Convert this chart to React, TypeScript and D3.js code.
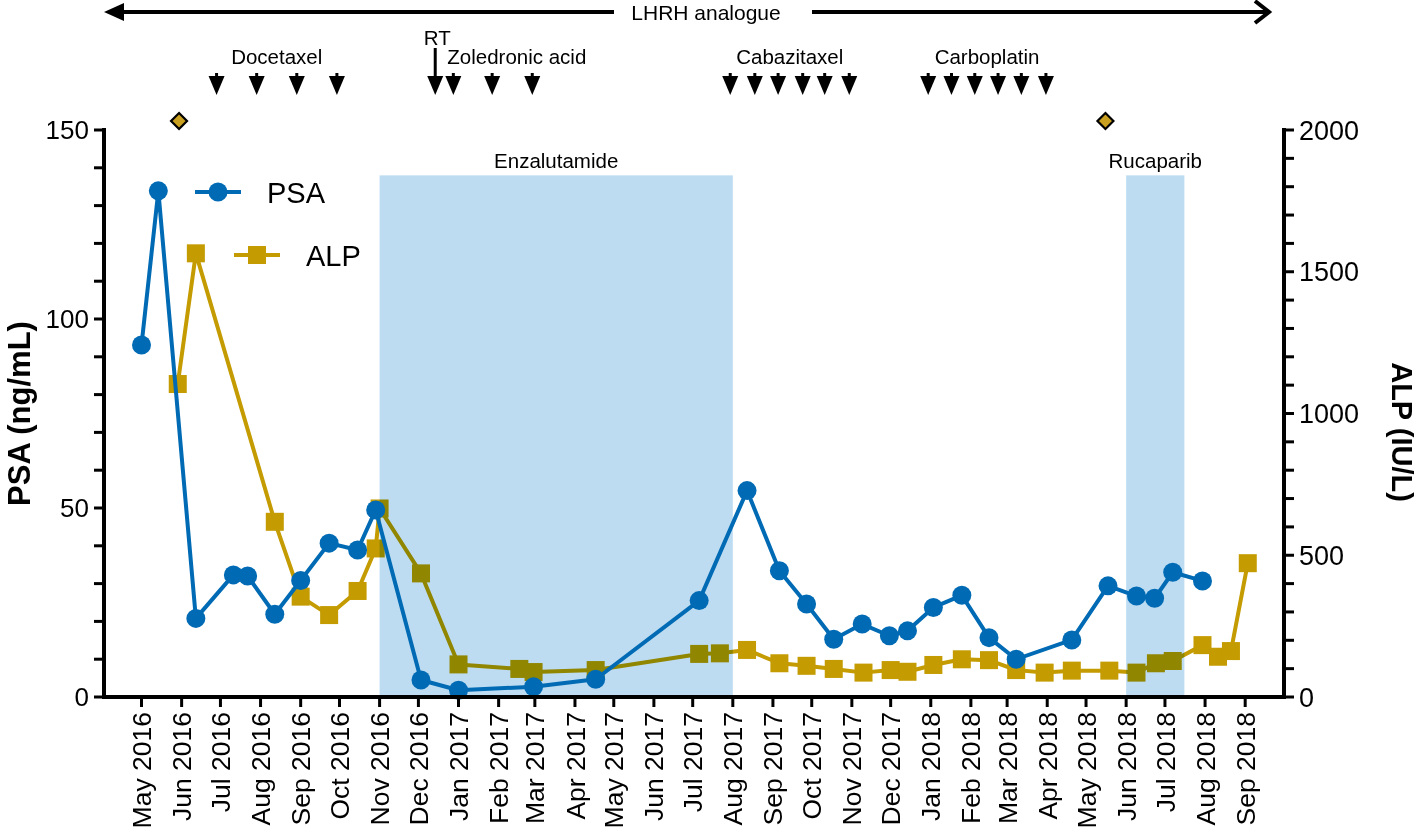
import React from "react";
import * as d3 from "d3";

const parse = d3.timeParse("%Y-%m-%d");

const psaDates = ["2016-05-01","2016-05-14","2016-06-12","2016-07-11","2016-07-22","2016-08-12","2016-09-01","2016-09-23","2016-10-15","2016-10-29","2016-12-03","2017-01-01","2017-02-28","2017-04-17","2017-07-06","2017-08-12","2017-09-06","2017-09-27","2017-10-18","2017-11-09","2017-11-30","2017-12-14","2018-01-03","2018-01-25","2018-02-15","2018-03-08","2018-04-20","2018-05-18","2018-06-09","2018-06-23","2018-07-07","2018-07-30"];
const psaValues = [93.1,133.9,20.8,32.3,32.0,21.9,30.8,40.7,38.9,49.5,4.5,1.8,2.7,4.7,25.5,54.6,33.4,24.6,15.3,19.3,16.2,17.5,23.7,26.9,15.7,10.0,15.1,29.4,26.7,26.1,33.0,30.7];

const alpDates = ["2016-05-29","2016-06-12","2016-08-12","2016-09-01","2016-09-23","2016-10-15","2016-10-29","2016-11-01","2016-12-03","2017-01-01","2017-02-17","2017-02-28","2017-04-17","2017-07-06","2017-07-22","2017-08-12","2017-09-06","2017-09-27","2017-10-18","2017-11-10","2017-12-01","2017-12-14","2018-01-03","2018-01-25","2018-02-15","2018-03-08","2018-03-30","2018-04-20","2018-05-19","2018-06-09","2018-06-24","2018-07-07","2018-07-30","2018-08-11","2018-08-21","2018-09-03"];
const alpValues = [1104,1565,618,354,289,374,524,665,436,115,99,88,95,152,154,166,119,110,99,86,95,89,113,133,130,95,86,93,93,86,119,127,183,142,162,472];

const psaTicks = [0, 50, 100, 150];
const alpTicks = [0, 500, 1000, 1500, 2000];

const docetaxelDates = ["2016-06-28","2016-07-29","2016-08-29","2016-09-29"];
const rtDates = ["2016-12-14"];
const zoledronicDates = ["2016-12-28","2017-01-27","2017-02-27"];
const cabazitaxelDates = ["2017-07-30","2017-08-18","2017-09-05","2017-09-24","2017-10-11","2017-10-30"];
const carboplatinDates = ["2017-12-30","2018-01-17","2018-02-04","2018-02-22","2018-03-12","2018-03-31"];
const diamondDates = ["2016-05-30","2018-05-16"];

const periodNames = ["Enzalutamide", "Rucaparib"];
const periodStarts = ["2016-11-01", "2018-06-01"];
const periodEnds = ["2017-08-01", "2018-07-16"];

const BLUE = "#006bb4";
const GOLD = "#c49b00";
const SHADE = "#bddcf2";
const FONT = "'Liberation Sans', Arial, Helvetica, sans-serif";

export default function App() {
  const W = 1418, H = 838;
  const left = 104, right = 1284, top = 130, bottom = 697;
  const x = d3.scaleTime().domain([parse("2016-04-02")!, parse("2018-10-01")!]).range([left, right]);
  const yL = d3.scaleLinear().domain([0, 150]).range([bottom, top]);
  const yR = d3.scaleLinear().domain([0, 2000]).range([bottom, top]);

  const months = d3.timeMonth.range(parse("2016-05-01")!, parse("2018-09-02")!);
  const fmt = d3.timeFormat("%b %Y");

  const psa = psaDates.map((d, i) => ({ d: parse(d)!, v: psaValues[i] }));
  const alp = alpDates.map((d, i) => ({ d: parse(d)!, v: alpValues[i] }));
  const psaLine = d3.line<{ d: Date; v: number }>().x(p => x(p.d)).y(p => yL(p.v));
  const alpLine = d3.line<{ d: Date; v: number }>().x(p => x(p.d)).y(p => yR(p.v));

  const minorL = d3.range(0, 151, 10);
  const minorR = d3.range(0, 2001, 100);

  const shadeTop = yL(138);

  const arrow = (cx: number, key: string, stemTop = 73) => (
    <g key={key}>
      <line x1={cx} x2={cx} y1={stemTop} y2={80} stroke="#000" strokeWidth={3} />
      <path d={`M${cx - 8},76 L${cx + 8},76 L${cx},95 Z`} fill="#000" />
    </g>
  );

  const treatmentGroups = [
    { name: "Docetaxel", dates: docetaxelDates },
    { name: "Zoledronic acid", dates: zoledronicDates },
    { name: "Cabazitaxel", dates: cabazitaxelDates },
    { name: "Carboplatin", dates: carboplatinDates },
  ];

  return (
    <svg width={W} height={H} style={{ position: "absolute", left: 0, top: 0, background: "#fff" }} fontFamily={FONT}>
      {/* LHRH analogue arrow */}
      <line x1={110} x2={614} y1={12} y2={12} stroke="#000" strokeWidth={4} />
      <path d="M104,12 L124,3 L124,21 Z" fill="#000" />
      <text x={706} y={20} textAnchor="middle" fontSize={21}>LHRH analogue</text>
      <line x1={812} x2={1268} y1={12} y2={12} stroke="#000" strokeWidth={4} />
      <path d="M1255,1 L1269,12 L1255,23" fill="none" stroke="#000" strokeWidth={4} strokeLinejoin="miter" />

      {/* treatment arrows */}
      {treatmentGroups.map(g => {
        const xs = g.dates.map(d => x(parse(d)!));
        const cx = g.name === "Zoledronic acid" ? (xs[0] + xs[xs.length - 1]) / 2 + 24 : (xs[0] + xs[xs.length - 1]) / 2;
        return (
          <g key={g.name}>
            <text x={cx} y={64} textAnchor="middle" fontSize={20.5}>{g.name}</text>
            {xs.map((xx, i) => arrow(xx, g.name + i))}
          </g>
        );
      })}
      {rtDates.map((d, i) => {
        const xx = x(parse(d)!);
        return (
          <g key={"rt" + i}>
            <text x={xx + 2} y={45} textAnchor="middle" fontSize={20.5}>RT</text>
            {arrow(xx, "rta" + i, 48)}
          </g>
        );
      })}

      {/* diamonds */}
      {diamondDates.map((d, i) => {
        const xx = x(parse(d)!);
        return <path key={"dm" + i} d={`M${xx},113 L${xx + 8},121 L${xx},129 L${xx - 8},121 Z`} fill="#c9a020" stroke="#000" strokeWidth={2.2} />;
      })}

      {/* ALP series (under shading) */}
      <path d={alpLine(alp)!} fill="none" stroke={GOLD} strokeWidth={4} strokeLinejoin="round" />
      {alp.map((p, i) => (
        <rect key={"a" + i} x={x(p.d) - 9} y={yR(p.v) - 9} width={18} height={18} fill={GOLD} />
      ))}

      {/* shaded periods */}
      {periodNames.map((n, i) => {
        const x0 = x(parse(periodStarts[i])!);
        const x1 = x(parse(periodEnds[i])!);
        return (
          <g key={n}>
            <rect x={x0} y={shadeTop} width={x1 - x0} height={bottom - shadeTop} fill={SHADE} style={{ mixBlendMode: "multiply" }} />
            <text x={(x0 + x1) / 2} y={168} textAnchor="middle" fontSize={20.5}>{n}</text>
          </g>
        );
      })}

      {/* PSA series */}
      <path d={psaLine(psa)!} fill="none" stroke={BLUE} strokeWidth={4} strokeLinejoin="round" />
      {psa.map((p, i) => (
        <circle key={"p" + i} cx={x(p.d)} cy={yL(p.v)} r={9.5} fill={BLUE} />
      ))}

      {/* legend */}
      <line x1={195} x2={241} y1={192} y2={192} stroke={BLUE} strokeWidth={4} />
      <circle cx={218} cy={192} r={9.5} fill={BLUE} />
      <text x={267} y={203} fontSize={29}>PSA</text>
      <line x1={234} x2={280} y1={255} y2={255} stroke={GOLD} strokeWidth={4} />
      <rect x={248} y={246} width={18} height={18} fill={GOLD} />
      <text x={306} y={266} fontSize={29}>ALP</text>

      {/* axes */}
      <line x1={left} x2={right} y1={bottom} y2={bottom} stroke="#000" strokeWidth={4} />
      <line x1={left} x2={left} y1={top - 2} y2={bottom + 2} stroke="#000" strokeWidth={4} />
      <line x1={right} x2={right} y1={top - 2} y2={bottom + 2} stroke="#000" strokeWidth={4} />
      {/* left ticks */}
      {minorL.map(v => (
        <line key={"ml" + v} x1={left - 10} x2={left} y1={yL(v)} y2={yL(v)} stroke="#000" strokeWidth={3} />
      ))}
      {psaTicks.map(v => (
        <text key={"tl" + v} x={left - 15} y={yL(v)} dy="0.36em" textAnchor="end" fontSize={26}>{v}</text>
      ))}
      {/* right ticks */}
      {minorR.map(v => (
        <line key={"mr" + v} x1={right} x2={right + 10} y1={yR(v)} y2={yR(v)} stroke="#000" strokeWidth={3} />
      ))}
      {alpTicks.map(v => (
        <text key={"tr" + v} x={right + 15} y={yR(v)} dy="0.36em" textAnchor="start" fontSize={27}>{v}</text>
      ))}
      {/* x ticks */}
      {months.map((m, i) => (
        <g key={"xm" + i} transform={`translate(${x(m)},0)`}>
          <line y1={bottom} y2={bottom + 10} stroke="#000" strokeWidth={3} />
          <text transform={`translate(0,${bottom + 15}) rotate(-90)`} dy="0.36em" textAnchor="end" fontSize={26.5}>{fmt(m)}</text>
        </g>
      ))}

      {/* axis titles */}
      <text transform={`translate(30,${(top + bottom) / 2}) rotate(-90)`} textAnchor="middle" fontSize={31} fontWeight="bold">PSA (ng/mL)</text>
      <text transform={`translate(1392,432) rotate(90)`} textAnchor="middle" fontSize={29} fontWeight="bold">ALP (IU/L)</text>
    </svg>
  );
}
